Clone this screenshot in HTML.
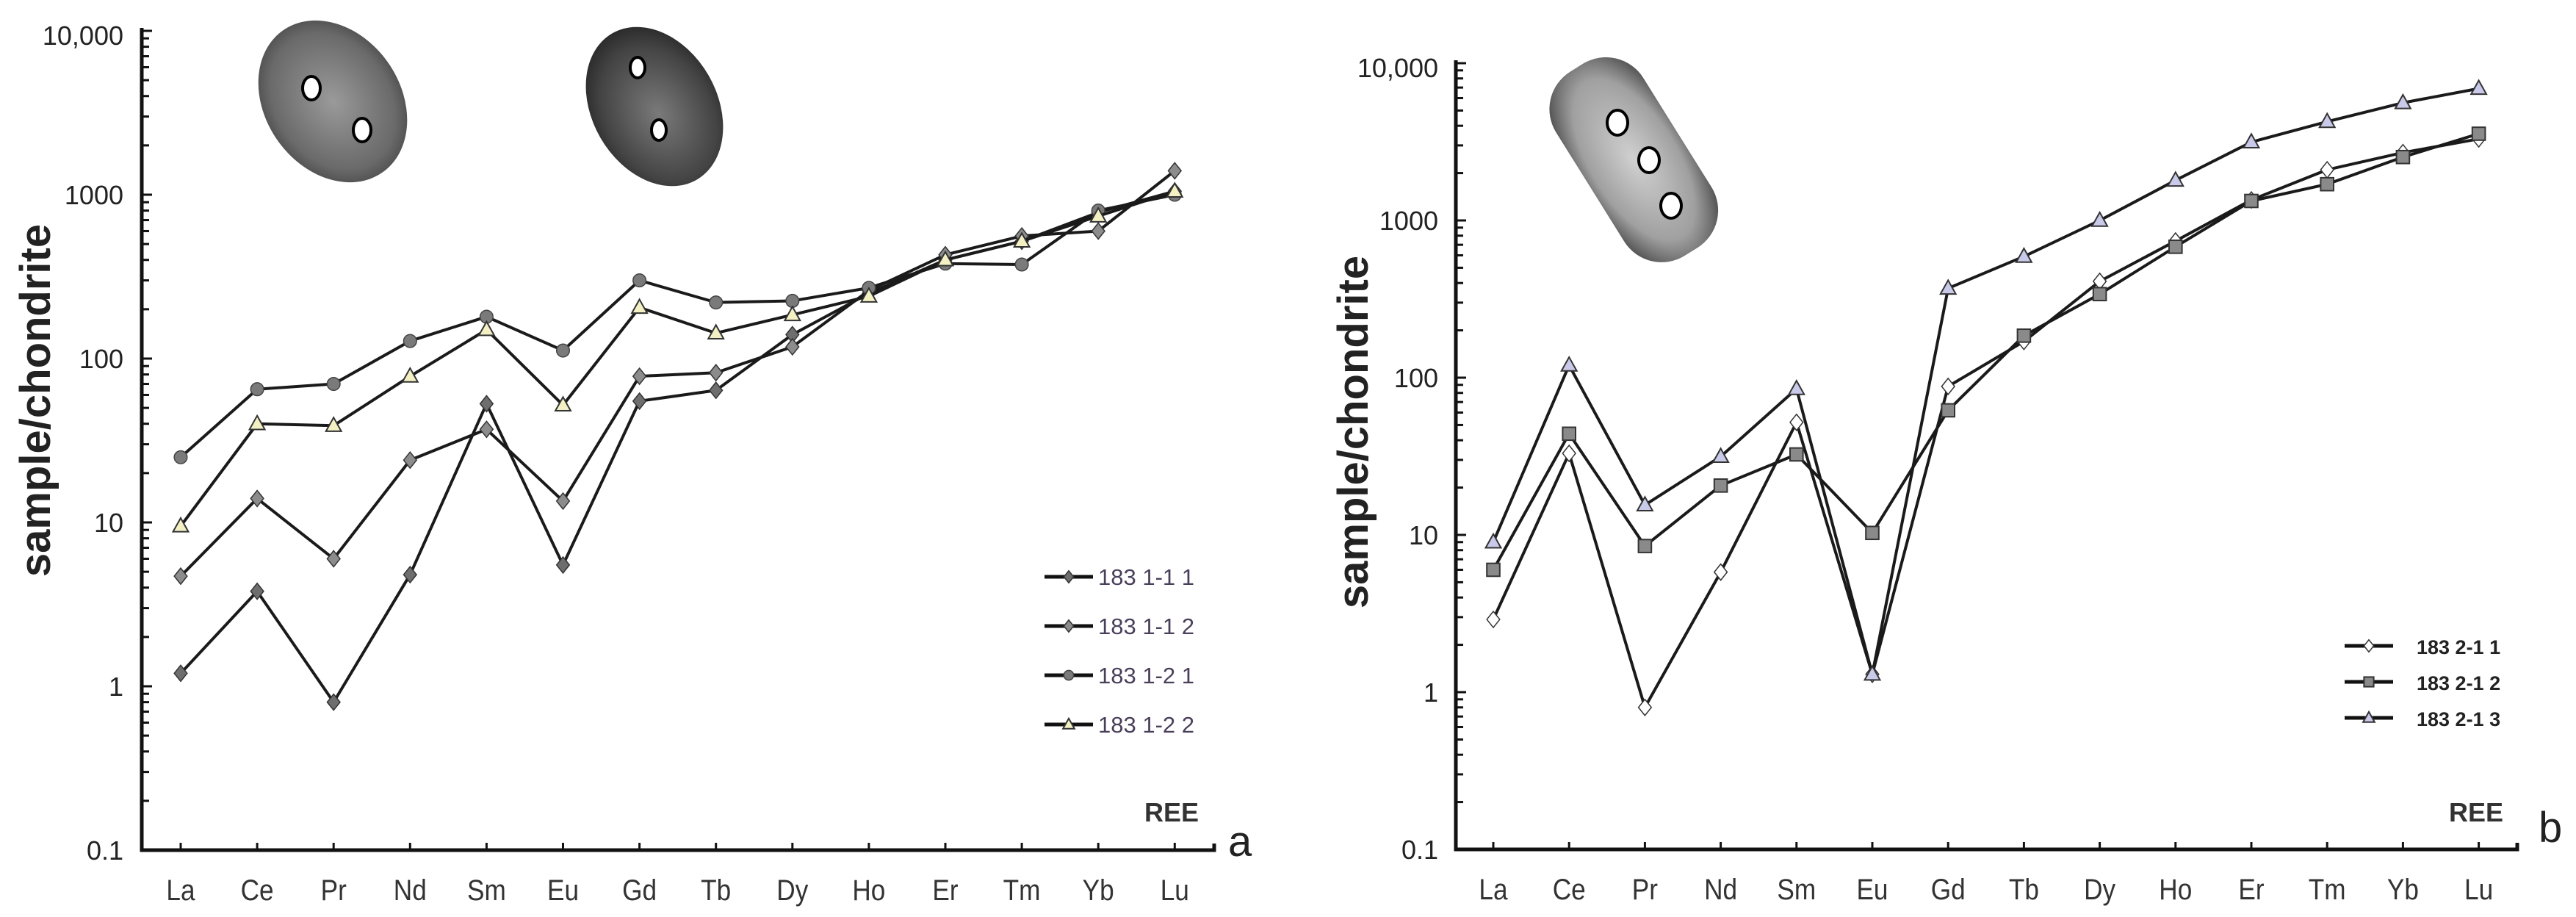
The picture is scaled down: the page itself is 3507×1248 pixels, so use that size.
<!DOCTYPE html>
<html><head><meta charset="utf-8"><style>
html,body{margin:0;padding:0;background:#fff;}
svg{display:block;font-family:"Liberation Sans",Arial,sans-serif;}
</style></head><body>
<svg id="fig" width="3507" height="1248" viewBox="0 0 3507 1248" xmlns="http://www.w3.org/2000/svg">
<defs>
<radialGradient id="g1" cx="50%" cy="50%" r="60%"><stop offset="0" stop-color="#9a9a9a"/><stop offset="0.7" stop-color="#6a6a6a"/><stop offset="1" stop-color="#3a3a3a"/></radialGradient>
<radialGradient id="g2" cx="50%" cy="55%" r="60%"><stop offset="0" stop-color="#7a7a7a"/><stop offset="0.7" stop-color="#444"/><stop offset="1" stop-color="#222"/></radialGradient>
<radialGradient id="g3" cx="50%" cy="50%" r="60%"><stop offset="0" stop-color="#d0d0d0"/><stop offset="0.7" stop-color="#a0a0a0"/><stop offset="1" stop-color="#555"/></radialGradient>
</defs>
<g>
<ellipse cx="453" cy="138" rx="92" ry="118" transform="rotate(-35 453 138)" fill="url(#g1)"/>
<ellipse cx="424" cy="120" rx="12" ry="16" fill="#fff" stroke="#000" stroke-width="4"/>
<ellipse cx="493" cy="177" rx="12" ry="16" fill="#fff" stroke="#000" stroke-width="4"/>
</g>
<g>
<ellipse cx="891" cy="145" rx="85" ry="115" transform="rotate(-30 891 145)" fill="url(#g2)"/>
<ellipse cx="868" cy="92" rx="10" ry="14" fill="#fff" stroke="#000" stroke-width="4"/>
<ellipse cx="897" cy="177" rx="10" ry="14" fill="#fff" stroke="#000" stroke-width="4"/>
</g>
<g>
<rect x="2154" y="70" width="140" height="295" rx="60" transform="rotate(-32 2224 217)" fill="url(#g3)"/>
<ellipse cx="2202" cy="167" rx="14" ry="17" fill="#fff" stroke="#000" stroke-width="4"/>
<ellipse cx="2245" cy="218" rx="14" ry="17" fill="#fff" stroke="#000" stroke-width="4"/>
<ellipse cx="2275" cy="280" rx="14" ry="17" fill="#fff" stroke="#000" stroke-width="4"/>
</g>
</svg>
<script>
const categories = ["La","Ce","Pr","Nd","Sm","Eu","Gd","Tb","Dy","Ho","Er","Tm","Yb","Lu"];
const yTickValues = [0.1,1,10,100,1000,10000];
const yTickLabels = ["0.1","1","10","100","1000","10,000"];
const seriesNamesA = ["183  1-1 1","183  1-1 2","183  1-2 1","183  1-2 2"];
const a11 = [1.2,3.8,0.8,4.8,53,5.5,55,64,140,250,400,520,780,1050];
const a12 = [4.7,14,6,24,37,13.5,78,82,118,260,430,560,600,1400];
const a21 = [25,65,70,128,180,112,300,220,225,270,380,375,800,1000];
const a22 = [9.5,40,39,78,150,52,205,143,185,240,400,520,740,1050];
const seriesNamesB = ["183 2-1 1","183 2-1 2","183 2-1 3"];
const b11 = [2.9,33,0.8,5.8,52,1.3,88,170,410,740,1350,2100,2700,3300];
const b12 = [6,44,8.5,20.6,32.5,10.3,62,185,340,680,1330,1700,2530,3560];
const b13 = [9,120,15.5,31.5,85,1.3,370,590,1000,1800,3150,4250,5600,6900];

const NS="http://www.w3.org/2000/svg";
const svg=document.getElementById('fig');
function mk(tag,attrs,parent){const e=document.createElementNS(NS,tag);for(const k in attrs)e.setAttribute(k,attrs[k]);(parent||svg).appendChild(e);return e;}

function marker(g,type,x,y,fill,s){
  let m;
  if(type==='diamond'){m=mk('polygon',{points:`${x},${y-s} ${x+s*0.8},${y} ${x},${y+s} ${x-s*0.8},${y}`,fill:fill,stroke:'#333','stroke-width':1.5},g);}
  else if(type==='circle'){m=mk('circle',{cx:x,cy:y,r:s*0.8,fill:fill,stroke:'#444','stroke-width':1.5},g);}
  else if(type==='square'){m=mk('rect',{x:x-s*0.8,y:y-s*0.8,width:s*1.6,height:s*1.6,fill:fill,stroke:'#333','stroke-width':2},g);}
  else {m=mk('polygon',{points:`${x},${y-s} ${x+s*0.95},${y+s*0.7} ${x-s*0.95},${y+s*0.7}`,fill:fill,stroke:'#333','stroke-width':2},g);}
  
  
}

function panel(P){
  const g=mk('g',{});
  
  
  const xs=i=>P.x0+i*P.dx;
  const ys=v=>P.yBottom-(Math.log10(v)+1)*P.dec;
  // axes
  const ax=mk('path',{d:`M${P.axX},${ys(10000)-4} L${P.axX},${P.yBottom} L${P.axEnd},${P.yBottom} L${P.axEnd},${P.yBottom-9}`,fill:'none',stroke:'#111','stroke-width':5},g);
   
  // y ticks
  for(let d=-1;d<4;d++){for(let k=1;k<=10;k++){const v=k*Math.pow(10,d);const y=ys(v);
    mk('line',{x1:P.axX,x2:P.axX+(k===1||k===10?14:10),y1:y,y2:y,stroke:'#111','stroke-width':3},g);}}
  yTickValues.forEach((v,i)=>{const t=mk('text',{x:P.lblX,y:ys(v)+13+(i===5?6:0),'text-anchor':'end','font-size':36,fill:'#222'},g);t.textContent=yTickLabels[i];
     });
  categories.forEach((c,i)=>{const x=xs(i);
    mk('line',{x1:x,x2:x,y1:P.yBottom,y2:P.yBottom-10,stroke:'#111','stroke-width':3},g);
    const t=mk('text',{x:x,y:P.yBottom+68,'text-anchor':'middle','font-size':40,fill:'#333',transform:`translate(${x} 0) scale(0.88 1) translate(${-x} 0)`},g);t.textContent=c;
     });
  // y title
  const yt=mk('text',{x:P.titleX,y:P.titleY,'text-anchor':'middle','font-size':58,'font-weight':'bold',fill:'#222',transform:`rotate(-90 ${P.titleX} ${P.titleY})`},g);
  yt.textContent='sample/chondrite';  
  const ree=mk('text',{x:P.reeX,y:P.reeY,'text-anchor':'end','font-size':36,'font-weight':'bold',fill:'#333'},g);
  ree.textContent='REE';  
  const pl=mk('text',{x:P.letterX,y:P.letterY,'font-size':58,fill:'#222'},g);
  pl.textContent=P.letter;  
  // series
  P.series.forEach((S,si)=>{
    const sg=mk('g',{},g);
    
    
    const d=S.vals.map((v,i)=>(i?'L':'M')+xs(i)+','+ys(v)).join(' ');
    const ln=mk('path',{d:d,fill:'none',stroke:'#1a1a1a','stroke-width':4,'stroke-linejoin':'round'},sg);
     
    S.vals.forEach((v,i)=>marker(sg,S.m,xs(i),ys(v),S.fill,P.ms));
    // legend
    const lg=mk('g',{},g);
    
    
    const ly=P.legY+si*P.legDy;
    mk('line',{x1:P.legX,x2:P.legX+66,y1:ly,y2:ly,stroke:'#111','stroke-width':5},lg);
    marker(lg,S.m,P.legX+33,ly,S.fill,P.ms*0.75);
    const lt=mk('text',{x:P.legTX,y:ly+11,'font-size':P.legFS,'font-weight':P.legBold?'bold':'normal',fill:P.legBold?'#222':'#4a3f5a'},lg);
    lt.textContent=S.name;  
  });
}

panel({name:'panel-a',x0:246,dx:104.1,axX:193,axEnd:1653,yBottom:1157,dec:223,lblX:168,titleX:68,titleY:545,
  reeX:1632,reeY:1118,letter:'a',letterX:1672,letterY:1165,ms:11,
  legX:1422,legTX:1495,legY:785,legDy:67,legFS:31,legBold:false,
  series:[{name:seriesNamesA[0],vals:a11,m:'diamond',fill:'#6e6e6e'},
          {name:seriesNamesA[1],vals:a12,m:'diamond',fill:'#8c8c8c'},
          {name:seriesNamesA[2],vals:a21,m:'circle',fill:'#7a7a7a'},
          {name:seriesNamesA[3],vals:a22,m:'triangle',fill:'#f3f0c4'}]});
panel({name:'panel-b',x0:2033,dx:103.2,axX:1982,axEnd:3427,yBottom:1156,dec:214,lblX:1958,titleX:1862,titleY:588,
  reeX:3408,reeY:1118,letter:'b',letterX:3456,letterY:1146,ms:11,
  legX:3192,legTX:3290,legY:879,legDy:49,legFS:27,legBold:true,
  series:[{name:seriesNamesB[0],vals:b11,m:'diamond',fill:'#ffffff'},
          {name:seriesNamesB[1],vals:b12,m:'square',fill:'#8a8a8a'},
          {name:seriesNamesB[2],vals:b13,m:'triangle',fill:'#c9c9ea'}]});
</script>
</body></html>
